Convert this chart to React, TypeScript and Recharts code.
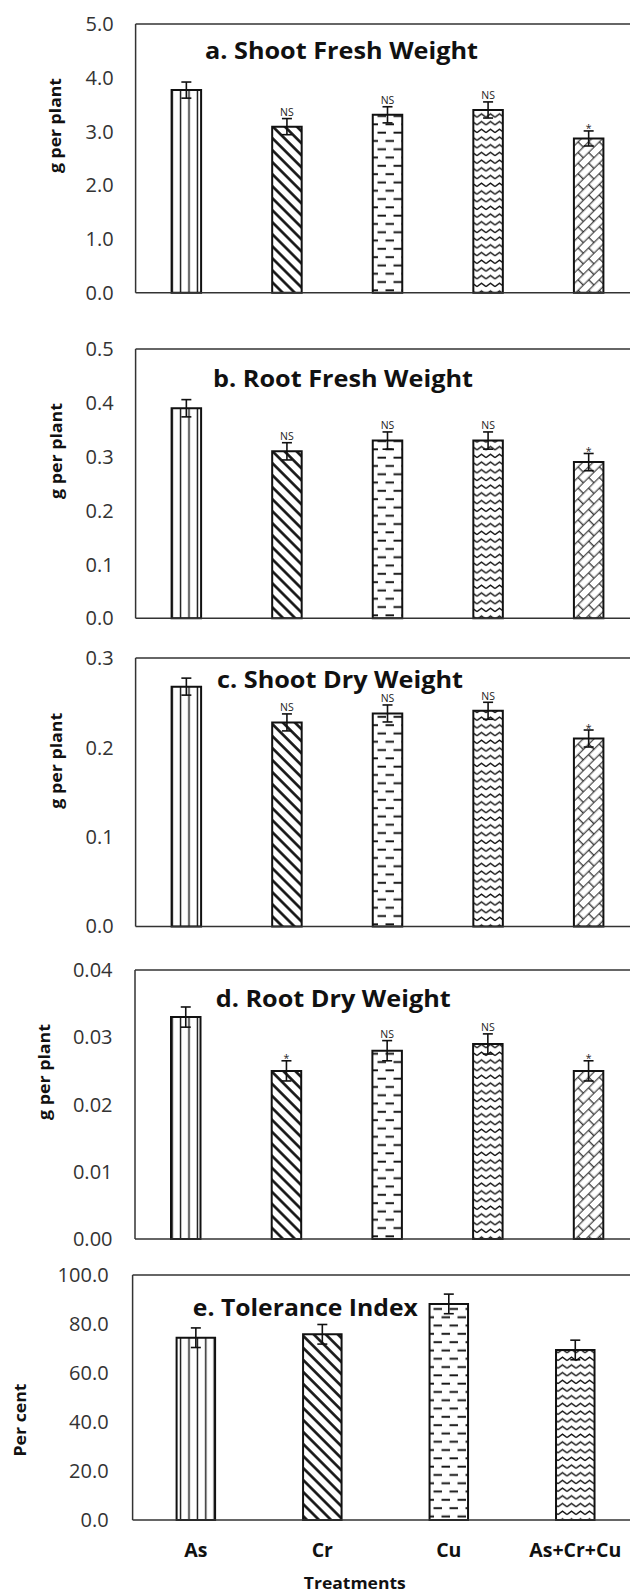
import React from 'react'
import { BarChart, Bar, XAxis, YAxis, ErrorBar, Cell, LabelList, ReferenceLine } from 'recharts'

// categories
const groupsAD = ['Control', 'As', 'Cr', 'Cu', 'As+Cr+Cu']
const groupsE = ['As', 'Cr', 'Cu', 'As+Cr+Cu']

// a. shoot fresh weight
const shootFresh = [3.77, 3.09, 3.31, 3.4, 2.87]
const shootFreshErr = [0.15, 0.15, 0.15, 0.15, 0.14]
const shootFreshSig = ['', 'NS', 'NS', 'NS', '*']
const shootFreshTicks = [0, 1, 2, 3, 4, 5]

// b. root fresh weight
const rootFresh = [0.39, 0.31, 0.33, 0.33, 0.29]
const rootFreshErr = [0.016, 0.016, 0.016, 0.016, 0.016]
const rootFreshSig = ['', 'NS', 'NS', 'NS', '*']
const rootFreshTicks = [0, 0.1, 0.2, 0.3, 0.4, 0.5]

// c. shoot dry weight
const shootDry = [0.268, 0.228, 0.238, 0.241, 0.21]
const shootDryErr = [0.0095, 0.0095, 0.0095, 0.0095, 0.0095]
const shootDrySig = ['', 'NS', 'NS', 'NS', '*']
const shootDryTicks = [0, 0.1, 0.2, 0.3]

// d. root dry weight
const rootDry = [0.033, 0.025, 0.028, 0.029, 0.025]
const rootDryErr = [0.0015, 0.0015, 0.0015, 0.0015, 0.0015]
const rootDrySig = ['', '*', 'NS', 'NS', '*']
const rootDryTicks = [0, 0.01, 0.02, 0.03, 0.04]

// e. tolerance index
const tolerance = [74.4, 75.8, 88.2, 69.4]
const toleranceErr = [4, 4, 4, 4]
const toleranceSig = ['', '', '', '']
const toleranceTicks = [0, 20, 40, 60, 80, 100]

const FONT = '"Open Sans", "Noto Sans", sans-serif'
const CHART_W = 660
const PLOT_RIGHT = 638.5
const PAD = 20

// fill patterns, one set per chart
function Patterns({ id }: { id: string }) {
  return (
    <defs>
      <pattern id={`${id}-0`} width={8.4} height={10} patternUnits="userSpaceOnUse">
        <rect width={8.4} height={10} fill="#fff" />
        <line x1={4.2} y1={0} x2={4.2} y2={10} stroke="#111" strokeWidth={1.4} />
      </pattern>
      <pattern id={`${id}-1`} width={8.5} height={8.5} patternUnits="userSpaceOnUse" patternTransform="rotate(-45)">
        <rect width={8.5} height={8.5} fill="#fff" />
        <line x1={4.25} y1={0} x2={4.25} y2={8.5} stroke="#111" strokeWidth={2.6} />
      </pattern>
      <pattern id={`${id}-2`} width={16} height={16.6} patternUnits="userSpaceOnUse">
        <rect width={16} height={16.6} fill="#fff" />
        <line x1={1.5} y1={4.15} x2={10} y2={4.15} stroke="#111" strokeWidth={1.9} />
        <line x1={9.5} y1={12.45} x2={18} y2={12.45} stroke="#111" strokeWidth={1.9} />
        <line x1={-6.5} y1={12.45} x2={2} y2={12.45} stroke="#111" strokeWidth={1.9} />
      </pattern>
      <pattern id={`${id}-3`} width={9} height={7.7} patternUnits="userSpaceOnUse">
        <rect width={9} height={7.7} fill="#fff" />
        <path d="M0,5.4 L4.5,2.1 L9,5.4" fill="none" stroke="#111" strokeWidth={1.3} />
      </pattern>
      <pattern id={`${id}-4`} width={15} height={15} patternUnits="userSpaceOnUse" patternTransform="rotate(-45)">
        <rect width={15} height={15} fill="#fff" />
        <path
          d="M0,3.75H15 M0,11.25H15 M3.75,3.75V11.25 M11.25,11.25V15 M11.25,0V3.75"
          fill="none"
          stroke="#1a1a1a"
          strokeWidth={1.15}
        />
      </pattern>
    </defs>
  )
}

type PanelProps = {
  id: string
  title: string
  titleX: number
  titleY: number
  titleW: number
  yLabel: string
  yLabelX: number
  yLabelY: number
  yLabelW: number
  groups: string[]
  values: number[]
  errs: number[]
  sig: string[]
  ticks: number[]
  decimals: number
  plotTop: number
  plotBottom: number
  plotLeft: number
  barSize: number
  tickGap: number
  showX?: boolean
}

function Panel(p: PanelProps) {
  const data = p.groups.map((name, i) => ({ name, value: p.values[i], err: p.errs[i] }))
  const max = p.ticks[p.ticks.length - 1]
  const plotH = p.plotBottom - p.plotTop
  const top = p.plotTop - PAD
  const bottomSpace = p.showX ? 1593 - p.plotBottom : 20
  const height = PAD + plotH + bottomSpace

  const sigLabel = (props: any) => {
    const { x, y, width, index } = props
    const s = p.sig[index]
    if (!s) return null
    const errTop = y - (p.errs[index] / max) * plotH
    return (
      <text
        x={x + width / 2}
        y={s === '*' ? errTop + 1.5 : errTop - 2.5}
        textAnchor="middle"
        fontSize={10.5}
        fontFamily={FONT}
        fill="#222"
      >
        {s}
      </text>
    )
  }

  return (
    <div style={{ position: 'absolute', left: 0, top, width: CHART_W, height }}>
      <BarChart
        width={CHART_W}
        height={height}
        data={data}
        margin={{ top: PAD, right: CHART_W - PLOT_RIGHT, bottom: 0, left: 0 }}
      >
        <Patterns id={p.id} />
        <YAxis
          width={p.plotLeft}
          domain={[0, max]}
          ticks={p.ticks}
          tickFormatter={(v: number) => v.toFixed(p.decimals)}
          tickLine={false}
          tickSize={0}
          tickMargin={p.tickGap}
          axisLine={{ stroke: '#333', strokeWidth: 1.5 }}
          tick={{ fontSize: 20, fill: '#333', fontFamily: FONT }}
          interval={0}
        />
        {p.showX ? (
          <XAxis
            dataKey="name"
            height={bottomSpace}
            tickLine={false}
            tickSize={0}
            tickMargin={23}
            interval={0}
            axisLine={{ stroke: '#333', strokeWidth: 1.5 }}
            tick={{ fontSize: 19.5, fontWeight: 700, fill: '#111', fontFamily: FONT }}
          />
        ) : (
          <XAxis
            dataKey="name"
            height={bottomSpace}
            tick={false}
            tickLine={false}
            axisLine={{ stroke: '#333', strokeWidth: 1.5 }}
          />
        )}
        <ReferenceLine y={max} stroke="#333" strokeWidth={1.5} />
        <Bar dataKey="value" barSize={p.barSize} stroke="#111" strokeWidth={2} isAnimationActive={false}>
          {data.map((_, i) => (
            <Cell key={i} fill={`url(#${p.id}-${i})`} />
          ))}
          <ErrorBar dataKey="err" width={5} stroke="#111" strokeWidth={1.6} direction="y" />
          <LabelList dataKey="value" content={sigLabel} />
        </Bar>
        <text
          x={p.titleX}
          y={p.titleY - top}
          textLength={p.titleW}
          lengthAdjust="spacingAndGlyphs"
          fontSize={23.5}
          fontWeight={700}
          fontFamily={FONT}
          fill="#111"
        >
          {p.title}
        </text>
        <text
          x={p.yLabelX}
          y={p.yLabelY - top}
          transform={`rotate(-90 ${p.yLabelX} ${p.yLabelY - top})`}
          textAnchor="middle"
          dominantBaseline="central"
          textLength={p.yLabelW}
          lengthAdjust="spacingAndGlyphs"
          fontSize={16.5}
          fontWeight={700}
          fontFamily={FONT}
          fill="#111"
        >
          {p.yLabel}
        </text>
        {p.showX && (
          <text
            x={354.8}
            y={1589 - top}
            textAnchor="middle"
            textLength={102}
            lengthAdjust="spacingAndGlyphs"
            fontSize={16.5}
            fontWeight={700}
            fontFamily={FONT}
            fill="#111"
          >
            Treatments
          </text>
        )}
      </BarChart>
    </div>
  )
}

export default function App() {
  return (
    <div
      style={{
        position: 'absolute',
        left: 0,
        top: 0,
        width: 630,
        height: 1593,
        overflow: 'hidden',
        background: '#fff',
      }}
    >
      <Panel
        id="pa"
        title="a. Shoot Fresh Weight"
        titleX={205}
        titleY={59.3}
        titleW={273}
        yLabel="g per plant"
        yLabelX={54.5}
        yLabelY={125.5}
        yLabelW={95}
        groups={groupsAD}
        values={shootFresh}
        errs={shootFreshErr}
        sig={shootFreshSig}
        ticks={shootFreshTicks}
        decimals={1}
        plotTop={24}
        plotBottom={292.7}
        plotLeft={135.6}
        barSize={29.5}
        tickGap={22}
      />
      <Panel
        id="pb"
        title="b. Root Fresh Weight"
        titleX={213}
        titleY={387.3}
        titleW={260}
        yLabel="g per plant"
        yLabelX={55.6}
        yLabelY={451}
        yLabelW={96}
        groups={groupsAD}
        values={rootFresh}
        errs={rootFreshErr}
        sig={rootFreshSig}
        ticks={rootFreshTicks}
        decimals={1}
        plotTop={349}
        plotBottom={618.3}
        plotLeft={135.6}
        barSize={29.5}
        tickGap={22}
      />
      <Panel
        id="pc"
        title="c. Shoot Dry Weight"
        titleX={217}
        titleY={688.3}
        titleW={246}
        yLabel="g per plant"
        yLabelX={55.6}
        yLabelY={761}
        yLabelW={96}
        groups={groupsAD}
        values={shootDry}
        errs={shootDryErr}
        sig={shootDrySig}
        ticks={shootDryTicks}
        decimals={1}
        plotTop={658.3}
        plotBottom={926.7}
        plotLeft={135.6}
        barSize={29.5}
        tickGap={22}
      />
      <Panel
        id="pd"
        title="d. Root Dry Weight"
        titleX={215.7}
        titleY={1006.7}
        titleW={235}
        yLabel="g per plant"
        yLabelX={43.8}
        yLabelY={1072}
        yLabelW={96}
        groups={groupsAD}
        values={rootDry}
        errs={rootDryErr}
        sig={rootDrySig}
        ticks={rootDryTicks}
        decimals={2}
        plotTop={970}
        plotBottom={1239}
        plotLeft={135}
        barSize={29.5}
        tickGap={22.5}
      />
      <Panel
        id="pe"
        title="e. Tolerance Index"
        titleX={192.8}
        titleY={1316}
        titleW={225}
        yLabel="Per cent"
        yLabelX={19.7}
        yLabelY={1420}
        yLabelW={73}
        groups={groupsE}
        values={tolerance}
        errs={toleranceErr}
        sig={toleranceSig}
        ticks={toleranceTicks}
        decimals={1}
        plotTop={1275}
        plotBottom={1520}
        plotLeft={132.6}
        barSize={38.5}
        tickGap={24}
        showX
      />
    </div>
  )
}
